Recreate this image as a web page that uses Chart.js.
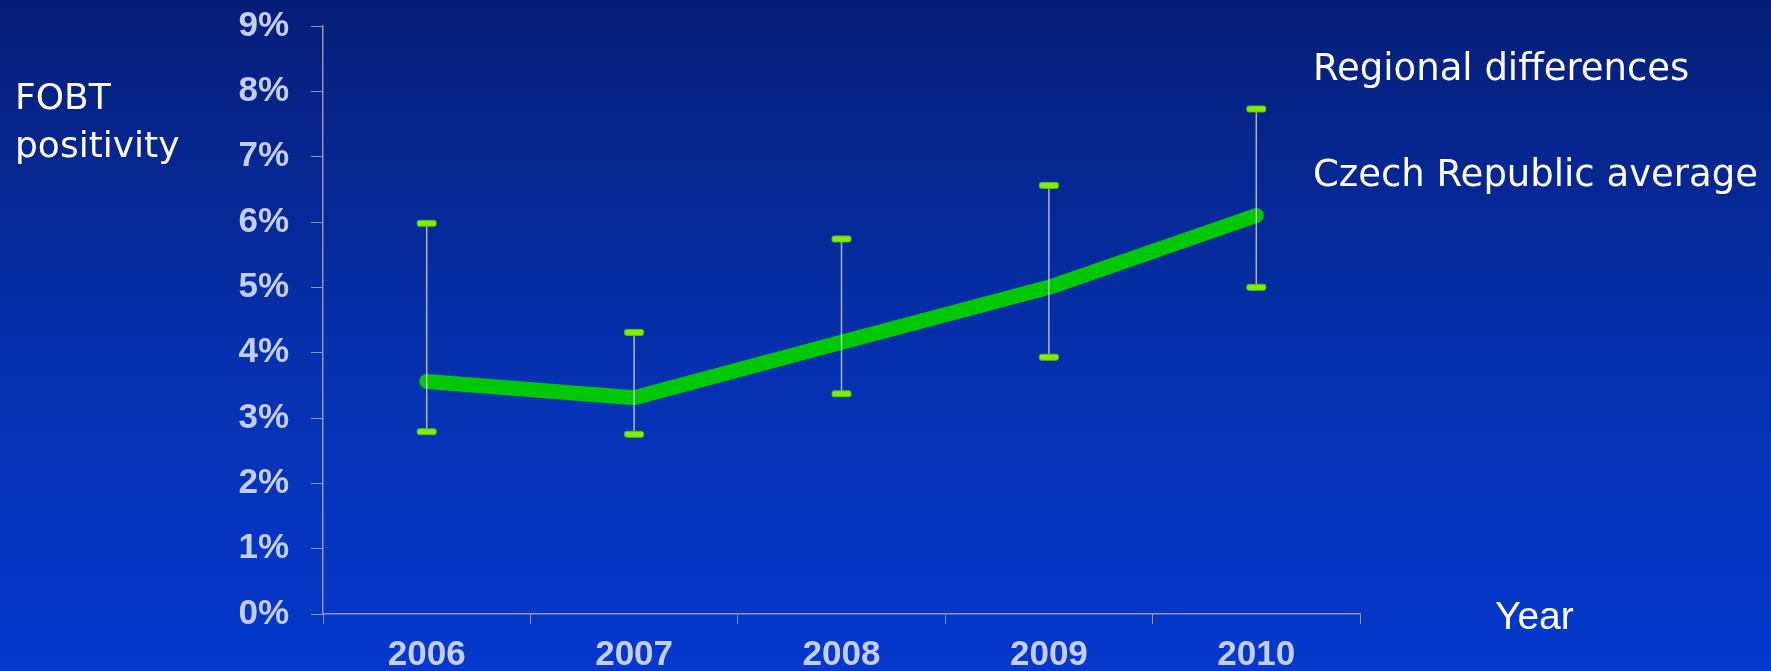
<!DOCTYPE html>
<html lang="en">
<head>
    <meta charset="UTF-8">
    <title>FOBT positivity</title>
    <script src="https://cdn.jsdelivr.net/npm/chart.js"></script>
    <style>
        html, body {
            margin: 0;
            padding: 0;
        }
        body {
            width: 1771px;
            height: 671px;
            overflow: hidden;
            background: linear-gradient(to bottom, #061e78 0%, #0632b4 60%, #0538cc 100%);
        }
        .wrap {
            position: relative;
            width: 1771px;
            height: 671px;
        }
        .note {
            position: absolute;
            color: #ffffff;
            font-family: "DejaVu Sans", sans-serif;
            font-size: 37px;
            line-height: 48px;
            white-space: nowrap;
        }
    </style>
</head>
<body>
    <div class="wrap">
        <canvas id="chart"></canvas>
        <div class="note" style="left:15px; top:73px; font-size:36px;">FOBT<br>positivity</div>
        <div class="note" style="left:1313px; top:44px;">Regional differences</div>
        <div class="note" style="left:1313px; top:150px;">Czech Republic average</div>
        <div class="note" style="left:1495px; top:592px; font-family:'Liberation Sans', Arial, sans-serif; font-size:39px;">Year</div>
    </div>

    <script>
        // values (percent)
        const years = ['2006', '2007', '2008', '2009', '2010'];
        const czAverage = [3.56, 3.31, 4.16, 5.0, 6.1];
        const regionMin = [2.79, 2.75, 3.37, 3.93, 5.0];
        const regionMax = [5.98, 4.31, 5.74, 6.56, 7.73];
        const yTicks = [0, 1, 2, 3, 4, 5, 6, 7, 8, 9];

        const axisGray = '#8b95bd';
        const tickFont = { family: '"Liberation Sans", Arial, sans-serif', size: 35, weight: 'bold' };

        // draws the regional min-max bars on top of the average line
        const rangeBars = {
            id: 'rangeBars',
            afterDatasetsDraw(chart) {
                const ctx = chart.ctx;
                const x = chart.scales.x;
                const y = chart.scales.y;
                ctx.save();
                years.forEach(function(yr, i) {
                    const px = x.getPixelForValue(i);
                    const top = y.getPixelForValue(regionMax[i]);
                    const bot = y.getPixelForValue(regionMin[i]);
                    ctx.strokeStyle = 'rgba(200,205,225,0.85)';
                    ctx.lineWidth = 1.5;
                    ctx.beginPath();
                    ctx.moveTo(px, top);
                    ctx.lineTo(px, bot);
                    ctx.stroke();
                    ctx.fillStyle = '#80f000';
                    ctx.strokeStyle = '#5cc000';
                    ctx.lineWidth = 1;
                    [top, bot].forEach(function(py) {
                        ctx.beginPath();
                        ctx.roundRect(px - 9.5, py - 3, 19, 6, 2);
                        ctx.fill();
                        ctx.stroke();
                    });
                });
                ctx.restore();
            }
        };

        new Chart(document.getElementById('chart'), {
            type: 'line',
            data: {
                labels: years,
                datasets: [{
                    label: 'Czech Republic average',
                    data: czAverage,
                    borderColor: '#00c800',
                    borderWidth: 15,
                    borderCapStyle: 'round',
                    borderJoinStyle: 'round',
                    pointRadius: 0,
                    tension: 0,
                    fill: false
                }]
            },
            options: {
                responsive: true,
                maintainAspectRatio: false,
                animation: false,
                layout: {
                    padding: { left: 0, top: 26, right: 411, bottom: 0 }
                },
                plugins: {
                    legend: { display: false },
                    tooltip: { enabled: false }
                },
                scales: {
                    x: {
                        offset: true,
                        grid: {
                            offset: true,
                            drawOnChartArea: false,
                            color: axisGray,
                            tickLength: 10
                        },
                        border: { color: axisGray, width: 1.5 },
                        ticks: {
                            color: '#c4cef8',
                            font: tickFont,
                            padding: 10,
                            maxRotation: 0
                        },
                        afterFit: function(scale) {
                            scale.height = 57;
                            scale.paddingLeft = 0;
                            scale.paddingRight = 0;
                        }
                    },
                    y: {
                        min: 0,
                        max: 9,
                        afterBuildTicks: function(scale) {
                            scale.ticks = yTicks.map(function(v) { return { value: v }; });
                        },
                        grid: {
                            drawOnChartArea: false,
                            color: axisGray,
                            tickLength: 12
                        },
                        border: { color: axisGray, width: 1.5 },
                        ticks: {
                            color: '#c4cef8',
                            font: tickFont,
                            padding: 22,
                            callback: function(v) { return v + '%'; }
                        },
                        afterFit: function(scale) {
                            scale.width = 323;
                            scale.paddingTop = 0;
                            scale.paddingBottom = 0;
                        }
                    }
                }
            },
            plugins: [rangeBars]
        });
    </script>
</body>
</html>
